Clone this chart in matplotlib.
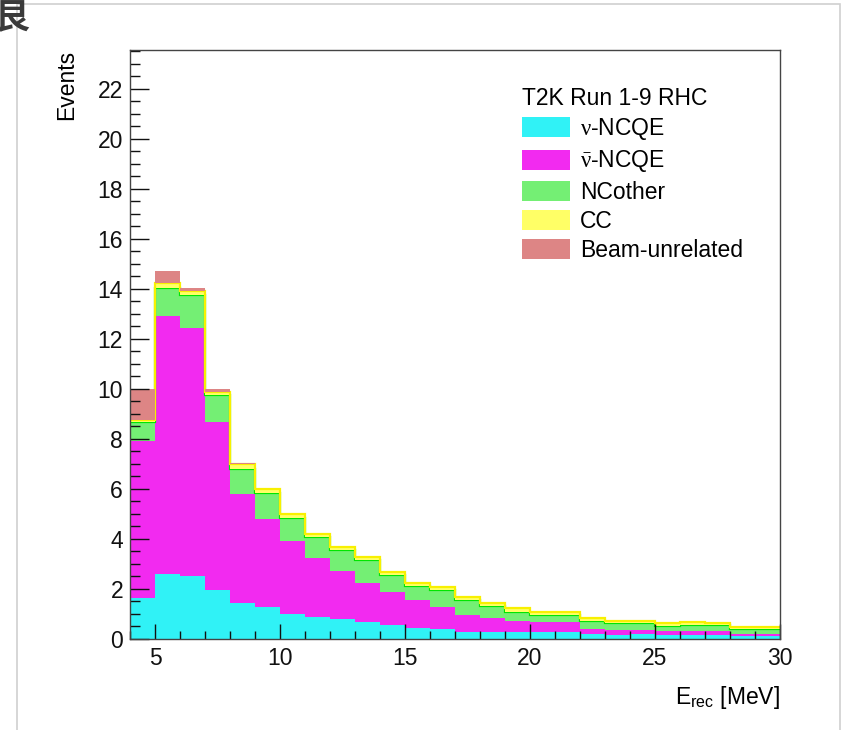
import numpy as np
import matplotlib
matplotlib.use("Agg")
import matplotlib.pyplot as plt
from matplotlib.patches import Patch, Rectangle

plt.rcParams['font.family'] = ['Liberation Sans', 'DejaVu Sans']
plt.rcParams['mathtext.fontset'] = 'custom'
plt.rcParams['mathtext.rm'] = 'Liberation Serif'
plt.rcParams['mathtext.it'] = 'Liberation Serif:italic'

# ---- data (1 MeV bins from 4 to 30 MeV) ----
bin_edges = list(range(4, 31))
nu_ncqe = [1.63, 2.60, 2.52, 1.96, 1.43, 1.27, 1.00, 0.89, 0.80, 0.69, 0.56, 0.45, 0.40,
           0.29, 0.29, 0.29, 0.27, 0.29, 0.19, 0.17, 0.19, 0.15, 0.15, 0.15, 0.12, 0.12]
nubar_ncqe = [6.30, 10.30, 9.93, 6.71, 4.38, 3.53, 2.92, 2.34, 1.92, 1.56, 1.33, 1.10, 0.89,
              0.67, 0.54, 0.44, 0.42, 0.38, 0.20, 0.19, 0.17, 0.18, 0.18, 0.17, 0.08, 0.08]
nc_other = [0.74, 1.15, 1.31, 1.09, 1.00, 1.05, 0.93, 0.84, 0.84, 0.91, 0.67, 0.57, 0.67,
            0.60, 0.49, 0.36, 0.27, 0.29, 0.34, 0.29, 0.27, 0.20, 0.24, 0.23, 0.18, 0.20]
cc = [0.08, 0.20, 0.14, 0.12, 0.17, 0.15, 0.15, 0.13, 0.12, 0.11, 0.12, 0.13, 0.11,
      0.13, 0.13, 0.14, 0.11, 0.11, 0.10, 0.08, 0.09, 0.10, 0.10, 0.09, 0.09, 0.09]
beam_unrelated = [1.25, 0.45, 0.15, 0.10, 0.05, 0.0, 0.0, 0.0, 0.0, 0.0, 0.0, 0.0, 0.0,
                  0.0, 0.0, 0.0, 0.0, 0.0, 0.0, 0.0, 0.0, 0.0, 0.0, 0.0, 0.0, 0.0]

labels = [r'$\mathrm{ν}$-NCQE', r'$\bar{\mathrm{ν}}$-NCQE', 'NCother', 'CC', 'Beam-unrelated']
fills = ['#30f2f6', '#f22af0', '#74ef74', '#ffff66', '#dd8585']
edges_c = [None, None, '#00e600', '#f8f000', None]
series = [nu_ncqe, nubar_ncqe, nc_other, cc, beam_unrelated]

W, H = 854, 730
fig = plt.figure(figsize=(W / 100, H / 100), dpi=100)
ax = fig.add_axes([130 / W, 1 - 639 / H, 650 / W, 589 / H])

edges = np.array(bin_edges, dtype=float)
bottom = np.zeros(len(nu_ncqe))
for vals, fc, ec in zip(series, fills, edges_c):
    top = bottom + np.array(vals)
    ax.stairs(top, edges, baseline=bottom, fill=True, color=fc, lw=0)
    if ec is not None:
        ax.stairs(top, edges, baseline=None, color=ec, lw=1.6)
    bottom = top

ax.set_xlim(4, 30)
ax.set_ylim(0, 23.55)
ax.set_xticks([5, 10, 15, 20, 25, 30])
ax.set_xticks(np.arange(4, 31, 1), minor=True)
ax.set_yticks(np.arange(0, 23, 2))
ax.set_yticks(np.arange(0, 23.6, 0.5), minor=True)
ax.tick_params(axis='both', which='both', direction='in', colors='#111111', labelsize=16.5)
ax.tick_params(axis='y', which='major', length=14, width=1, pad=5)
ax.tick_params(axis='y', which='minor', length=7, width=1)
ax.tick_params(axis='x', which='major', length=11, width=1, pad=6)
ax.tick_params(axis='x', which='minor', length=5.5, width=1)
for s in ax.spines.values():
    s.set_color('#444444')
    s.set_linewidth(1)

ax.set_ylabel('Events', fontsize=16.5, loc='top', labelpad=14)
ax.set_xlabel(r'$\mathregular{E_{rec}}$ [MeV]', fontsize=16.5, loc='right', labelpad=10)

handles = [Patch(facecolor=fc, edgecolor=fc, lw=0) for fc in fills]
leg = ax.legend(handles, labels, title='T2K Run 1-9 RHC', loc='upper left',
                bbox_to_anchor=(0.603, 0.937), frameon=False, fontsize=16.5,
                title_fontsize=16.5, handlelength=2.1, handleheight=0.96,
                labelspacing=0.27, handletextpad=0.44, borderpad=0, borderaxespad=0,
                alignment='left')

# outer page frame and cut-off heading glyph
fig.patches.append(Rectangle((17 / W, -0.05), (840 - 17) / W, 1 - 4 / H + 0.05,
                             transform=fig.transFigure, fill=False,
                             edgecolor='#d0d0d0', lw=1.2))
fig.text(-6 / W, 1 - 18 / H, '艮', fontsize=25, color='#3a3a3a', fontweight='bold',
         family=['Noto Sans CJK SC', 'DejaVu Sans'], ha='left', va='center')

fig.savefig('out.png', dpi=100)
